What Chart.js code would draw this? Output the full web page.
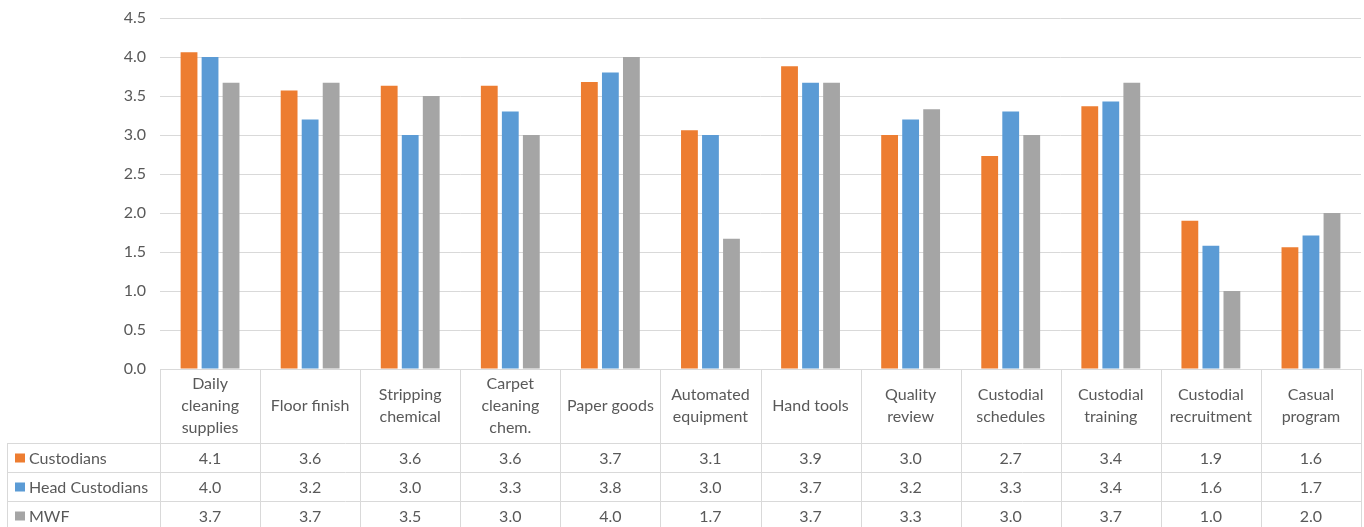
<!DOCTYPE html>
<html>
<head>
<meta charset="utf-8">
<title>Supply ratings</title>
<script src="https://cdn.jsdelivr.net/npm/chart.js@4/dist/chart.umd.min.js"></script>
<style>
  html, body { margin: 0; padding: 0; background: #ffffff; }
  #wrap { width: 1364px; height: 527px; }
</style>
</head>
<body>
<div id="wrap"><canvas id="chart" width="1364" height="527"></canvas></div>
<script>
const categories = [
  ["Daily", "cleaning", "supplies"],
  ["Floor finish"],
  ["Stripping", "chemical"],
  ["Carpet", "cleaning", "chem."],
  ["Paper goods"],
  ["Automated", "equipment"],
  ["Hand tools"],
  ["Quality", "review"],
  ["Custodial", "schedules"],
  ["Custodial", "training"],
  ["Custodial", "recruitment"],
  ["Casual", "program"]
];

const seriesNames = ["Custodians", "Head Custodians", "MWF"];
const custodians = [4.06, 3.57, 3.63, 3.63, 3.68, 3.06, 3.88, 3.0, 2.73, 3.37, 1.9, 1.56];
const headCustodians = [4.0, 3.2, 3.0, 3.3, 3.8, 3.0, 3.67, 3.2, 3.3, 3.43, 1.58, 1.71];
const mwf = [3.67, 3.67, 3.5, 3.0, 4.0, 1.67, 3.67, 3.33, 3.0, 3.67, 1.0, 2.0];
const yTicks = [0, 0.5, 1, 1.5, 2, 2.5, 3, 3.5, 4, 4.5];

const colors = ["#ed7d31", "#5b9bd5", "#a5a5a5"];
const textColor = "#595959";
const lineColor = "#d9d9d9";
const fontFamily = "Lato, 'Open Sans', sans-serif";

// Excel-style data table drawn under the plot area
const dataTable = {
  id: "dataTable",
  afterDraw(chart) {
    const { ctx, chartArea, scales } = chart;
    const x = scales.x;
    const colW = (chartArea.right - chartArea.left) / categories.length;
    const top = chartArea.bottom;
    const headBottom = top + 74;
    const rowH = 29;
    const tableLeft = 7;
    const bottom = chart.height;

    ctx.save();
    ctx.strokeStyle = lineColor;
    ctx.lineWidth = 1;

    ctx.beginPath();
    ctx.moveTo(chartArea.left, top + 0.5);
    ctx.lineTo(chartArea.right, top + 0.5);
    for (let r = 0; r < 3; r++) {
      const y = Math.round(headBottom + r * rowH) + 0.5;
      ctx.moveTo(tableLeft, y);
      ctx.lineTo(chartArea.right, y);
    }
    for (let i = 0; i <= categories.length; i++) {
      const lx = Math.round(chartArea.left + i * colW) + 0.5;
      ctx.moveTo(lx, top);
      ctx.lineTo(lx, bottom);
    }
    ctx.moveTo(tableLeft + 0.5, headBottom);
    ctx.lineTo(tableLeft + 0.5, bottom);
    ctx.stroke();

    ctx.fillStyle = textColor;
    ctx.font = "16px " + fontFamily;
    ctx.textAlign = "center";
    ctx.textBaseline = "middle";

    const headMid = (top + headBottom) / 2;
    categories.forEach((lines, i) => {
      const cx = x.getPixelForValue(i);
      const lh = 22;
      const start = headMid - ((lines.length - 1) * lh) / 2;
      lines.forEach((line, j) => ctx.fillText(line, cx, start + j * lh));
    });

    const rows = [custodians, headCustodians, mwf];
    rows.forEach((values, r) => {
      const cy = headBottom + r * rowH + rowH / 2 + 1;
      ctx.textAlign = "center";
      ctx.fillStyle = textColor;
      values.forEach((v, i) => {
        ctx.fillText(v.toFixed(1), x.getPixelForValue(i), cy);
      });
      ctx.fillStyle = colors[r];
      ctx.fillRect(tableLeft + 8, cy - 5, 10, 9);
      ctx.fillStyle = textColor;
      ctx.textAlign = "left";
      ctx.fillText(seriesNames[r], tableLeft + 22, cy);
    });
    ctx.restore();
  }
};

new Chart(document.getElementById("chart"), {
  type: "bar",
  data: {
    labels: categories.map((c) => c.join(" ")),
    datasets: [custodians, headCustodians, mwf].map((values, i) => ({
      label: seriesNames[i],
      data: values,
      backgroundColor: colors[i],
      borderWidth: 0,
      categoryPercentage: 0.63,
      barPercentage: 0.8
    }))
  },
  options: {
    responsive: false,
    animation: false,
    layout: { padding: { top: 18, right: 3, bottom: 158, left: 0 } },
    plugins: {
      legend: { display: false },
      tooltip: { enabled: false }
    },
    scales: {
      x: { display: false },
      y: {
        min: 0,
        max: 4.5,
        afterFit: (scale) => {
          scale.width = 160;
          scale.paddingTop = 0;
          scale.paddingBottom = 0;
        },
        afterBuildTicks: (scale) => { scale.ticks = yTicks.map((v) => ({ value: v })); },
        border: { display: false },
        grid: { color: lineColor, lineWidth: 1, drawTicks: false },
        ticks: {
          color: textColor,
          padding: 14,
          font: { family: fontFamily, size: 16 },
          callback: (v) => Number(v).toFixed(1)
        }
      }
    }
  },
  plugins: [dataTable]
});
</script>
</body>
</html>
